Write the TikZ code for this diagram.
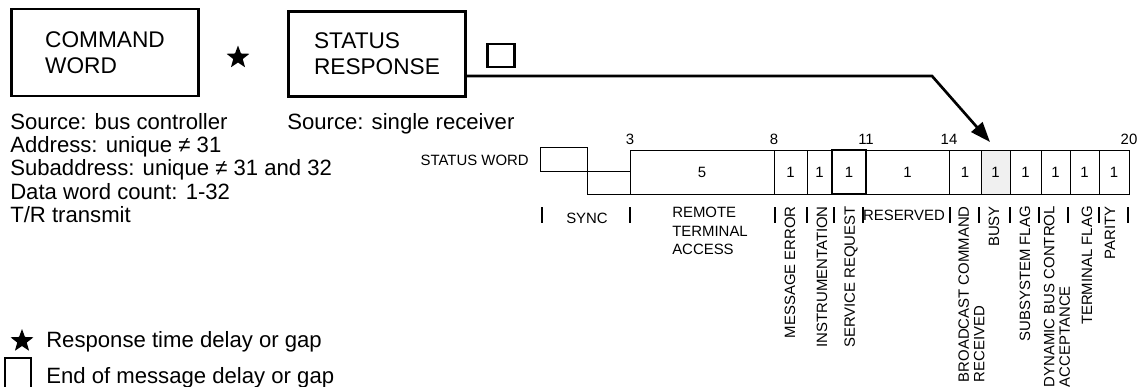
\documentclass[tikz,border=0pt]{standalone}
\usepackage{fontspec}
\setmainfont{Liberation Sans}
\usetikzlibrary{shapes.geometric,arrows.meta}

\begin{document}
\begin{tikzpicture}[x=0.75pt,y=-0.75pt,
  wordbox/.style={draw,line width=1.9pt,align=left,inner sep=0pt,
    font=\fontsize{17}{19.5}\selectfont},
  gapstar/.style={star,star points=5,star point ratio=2.4,fill,
    inner sep=0pt,minimum size=18pt},
  body/.style={inner sep=0pt,font=\fontsize{16.6}{17.5}\selectfont},
  small/.style={inner sep=0pt,font=\fontsize{11.2}{11.6}\selectfont},
  vlab/.style={small,rotate=90,anchor=east,align=left},
  cell/.style={line width=0.7pt},
  tick/.style={line width=1.1pt}]
  \useasboundingbox (0,0) rectangle (1139,386);

  % the two words and the gaps
  \node[wordbox,minimum width=140pt,minimum height=65pt] (command) at (105,52.5) {COMMAND\\WORD};
  \node[gapstar] (gap) at (238,57.5) {};
  \node[wordbox,minimum width=133pt,minimum height=64pt] (status) at (377,54) {STATUS\\RESPONSE};
  \node[draw,line width=1.9pt,minimum width=20.5pt,minimum height=17pt,inner sep=0pt] (eom) at (501,55.5) {};

  \node[body,anchor=north west,align=left] (cmdinfo) at (10,113)
    {Source: bus controller\\Address: unique ≠ 31\\Subaddress: unique ≠ 31 and 32\\Data word count: 1-32\\T/R transmit};
  \node[body,anchor=north west] (statinfo) at (287,113) {Source: single receiver};

  % status word
  \node[small,anchor=base east] (swlabel) at (529,165) {STATUS WORD};
  \draw[cell] (540,147) rectangle (587,171);
  \draw[cell] (587,171) rectangle (630,194);
  \fill[gray!12] (981,150) rectangle (1010,194);
  \foreach \l/\r/\n in {630/774/5,774/807/1,807/832/1,832/866/1,866/949/1,949/981/1,
      981/1010/1,1010/1041/1,1041/1070/1,1070/1099/1,1099/1129/1} {
    \draw[cell] (\l,150) rectangle (\r,194);
    \node[small] (bit\l) at ({(\l+\r)/2},172) {\n};
  }
  \draw[line width=1.5pt] (832,150) rectangle (866,194);
  \foreach \x/\t in {630/3,774/8,866/11,949/14,1129/20}
    \node[small] (pos\t) at (\x,139) {\t};

  % connector to the busy bit
  \coordinate (bend) at (932,76);
  \coordinate (busytip) at (990,142);
  \draw[line width=2pt,-{Triangle[length=15pt,width=11pt]}] (status.east |- bend) -- (bend) -- (busytip);

  % field names
  \foreach \x in {542,630,775,807,834,863,950,979,1010,1039,1068,1099,1128}
    \draw[tick] (\x,207) -- (\x,223);
  \node[small] (sync) at (587,218) {SYNC};
  \node[small,anchor=north west,align=left,font=\fontsize{11.2}{13.8}\selectfont] (rta) at (672,207)
    {REMOTE\\TERMINAL\\ACCESS};
  \node[small] (reserved) at (904,215) {RESERVED};
  \foreach \x/\t in {790/MESSAGE ERROR,822/INSTRUMENTATION,851/SERVICE REQUEST,994/BUSY,
      1025/SUBSYSTEM FLAG,1087/TERMINAL FLAG,1110/PARITY}
    \node[vlab] at (\x,206) {\t};
  \node[vlab] (bcast) at (971.5,206) {BROADCAST COMMAND\\RECEIVED};
  \node[vlab] (dynbus) at (1057,206) {DYNAMIC BUS CONTROL\\ACCEPTANCE};

  % key
  \node[gapstar] (starkey) at (22,341) {};
  \node[body,anchor=base west] (starnote) at (46,347) {Response time delay or gap};
  \draw[line width=1.9pt] (5,390) -- (5,358) -- (31,358) -- (31,390);
  \node[body,anchor=base west] (eomnote) at (46,383) {End of message delay or gap};
\end{tikzpicture}
\end{document}
